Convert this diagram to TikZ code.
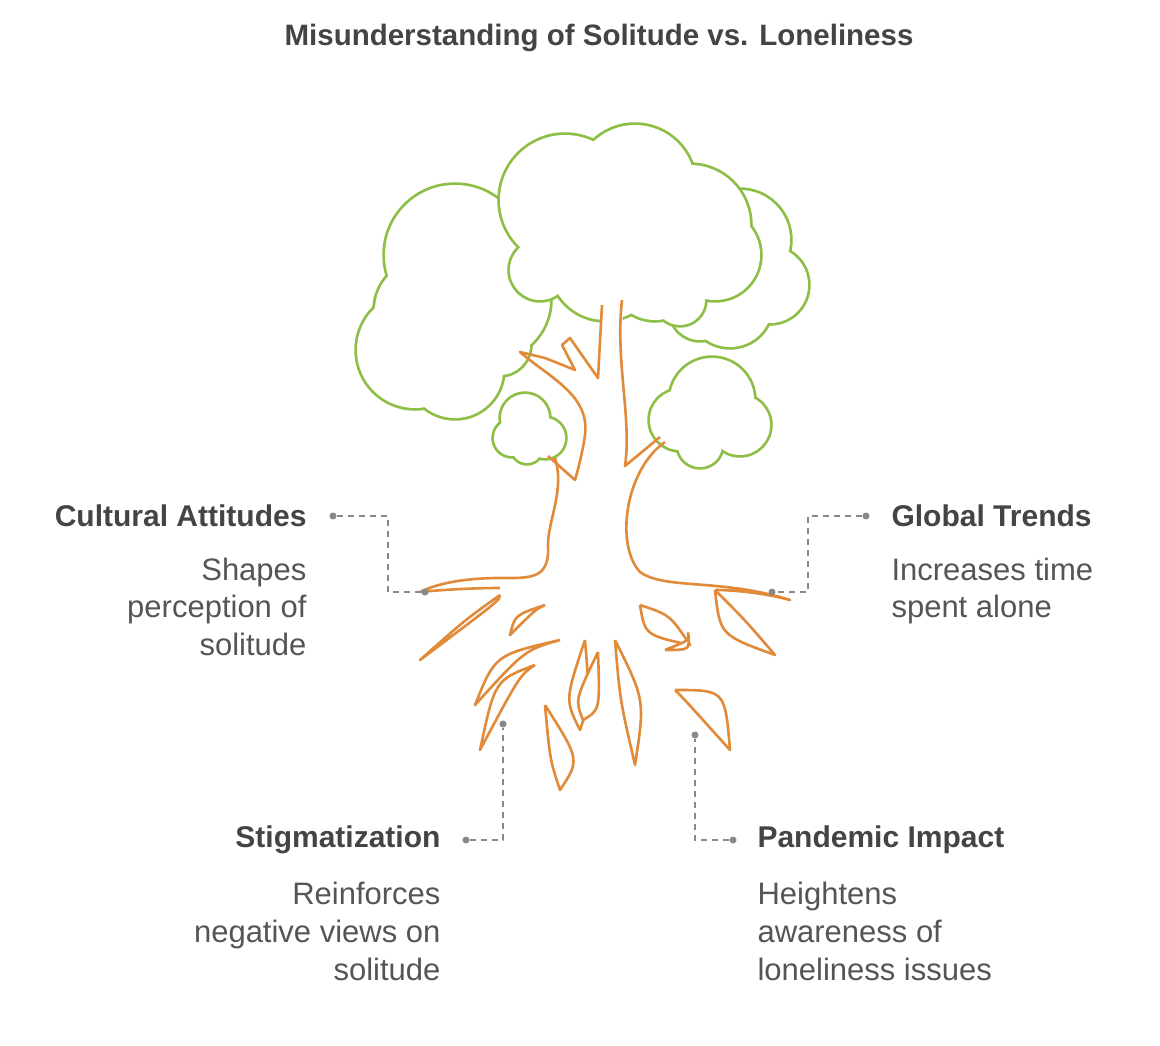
\documentclass[tikz,border=0pt]{standalone}
\usepackage{fontspec}
\setmainfont{Liberation Sans}
\usetikzlibrary{calc}
\definecolor{leaf}{HTML}{8DBE45}
\definecolor{bark}{HTML}{E08A3A}
\definecolor{txt}{HTML}{444444}
\definecolor{dsc}{HTML}{555555}
\definecolor{con}{HTML}{888888}
\tikzset{
 cl/.style={draw=leaf,line width=5.5pt},
 bk/.style={draw=bark,line width=2.6pt,fill=white,line join=round},
 conn/.style={draw=con,line width=1.8pt,dash pattern=on 6pt off 5pt},
 dot/.style={circle,fill=con,inner sep=0pt,minimum size=7pt},
 ttl/.style={font=\fontsize{30}{34}\selectfont\bfseries,text=txt},
 dl/.style={font=\fontsize{31}{38}\selectfont,text=dsc,align=left},
 dr/.style={font=\fontsize{31}{38}\selectfont,text=dsc,align=right}
}
\newcommand{\cloud}[1]{%
 \foreach \x/\y/\r in {#1} \draw[cl] (\x,\y) circle (\r pt);
 \foreach \x/\y/\r in {#1} \fill[white] (\x,\y) circle (\r pt);}
\newcommand{\spindle}[5]{%
 \draw[bk] (#1) .. controls (#2) .. (#3) .. controls ($(#2)+(#4,#5)$) .. (#1);}
\begin{document}
\begin{tikzpicture}[x=1pt,y=-1pt]
\useasboundingbox (0,0) rectangle (1160,1046);
\node[font=\fontsize{29.5}{34}\selectfont\bfseries,text=txt] (title) at (599,38) {Misunderstanding of Solitude vs. Loneliness};
% canopy
\cloud{455/255/70,425/310/50,415/350/58,455/370/48,490/300/60,500/345/30}
\cloud{740/240/50,770/285/38,730/305/42,700/310/30}
\cloud{565/200/65,635/185/60,690/225/60,715/255/45,605/265/55,655/275/45,680/300/25,540/270/30}
% trunk interior
\fill[white] (602,300) -- (622,300) -- (627,460) -- (640,570) -- (548,575) -- (552,460) -- (585,430) -- (598,380) -- cycle;
% small clouds
\cloud{712/400/42,680/420/30,740/425/30,700/445/22}
\cloud{525/418/24,512/438/18,545/438/20,527/448/15}
% trunk edges
\draw[bk,fill=none] (622,300) .. controls (615,360) and (632,420) .. (625,466) -- (660,437);
\draw[bk,fill=none] (665,442) .. controls (625,470) and (615,545) .. (640,572) .. controls (665,590) and (720,578) .. (790,600) .. controls (760,592) and (730,590) .. (715,590);
\draw[bk,fill=none] (602,305) -- (598,378) -- (570,338) -- (562,345) -- (575,370) -- (545,358) -- (520,352) .. controls (550,378) and (590,395) .. (585,435) .. controls (583,450) and (578,470) .. (575,480) -- (548,456);
\draw[bk,fill=none] (555,458) .. controls (565,490) and (548,520) .. (548,545) .. controls (550,580) and (530,578) .. (500,578) .. controls (470,578) and (440,582) .. (420,592) .. controls (440,590) and (470,588) .. (500,588);
% roots
\spindle{500,595}{465,620}{420,660}{35}{-20}
\spindle{545,605}{515,615}{510,635}{20}{-5}
\spindle{560,640}{495,655}{475,705}{30}{-5}
\spindle{535,665}{495,680}{480,750}{25}{-5}
\spindle{545,705}{580,760}{560,790}{-30}{0}
\spindle{585,640}{565,700}{580,730}{25}{0}
\spindle{598,652}{575,700}{583,720}{25}{10}
\spindle{615,640}{645,700}{635,765}{-25}{0}
\spindle{640,605}{670,615}{690,645}{-25}{20}
\spindle{665,650}{690,640}{688,633}{0}{10}
\spindle{675,690}{725,690}{730,750}{-40}{10}
\spindle{715,590}{745,620}{775,655}{-25}{15}
% connectors
\node[dot] (a1) at (333,516) {}; \node[dot] (a2) at (425,592) {};
\draw[conn] (a1) -- (388,516) -- (388,592) -- (a2);
\node[dot] (b1) at (866,516) {}; \node[dot] (b2) at (772,592) {};
\draw[conn] (b1) -- (808,516) -- (808,592) -- (b2);
\node[dot] (c1) at (466,840) {}; \node[dot] (c2) at (503,724) {};
\draw[conn] (c1) -- (503,840) -- (c2);
\node[dot] (d1) at (733,840) {}; \node[dot] (d2) at (695,735) {};
\draw[conn] (d1) -- (695,840) -- (d2);
% texts
\node[ttl,anchor=east] (t1) at (310,516) {Cultural Attitudes};
\node[dr,anchor=north east] (s1) at (310,554) {Shapes\\perception of\\solitude};
\node[ttl,anchor=west] (t2) at (888,516) {Global Trends};
\node[dl,anchor=north west] (s2) at (888,554) {Increases time\\spent alone};
\node[ttl,anchor=east] (t3) at (444,840) {Stigmatization};
\node[dr,anchor=north east] (s3) at (444,878) {Reinforces\\negative views on\\solitude};
\node[ttl,anchor=west] (t4) at (754,840) {Pandemic Impact};
\node[dl,anchor=north west] (s4) at (754,878) {Heightens\\awareness of\\loneliness issues};
\end{tikzpicture}
\end{document}
